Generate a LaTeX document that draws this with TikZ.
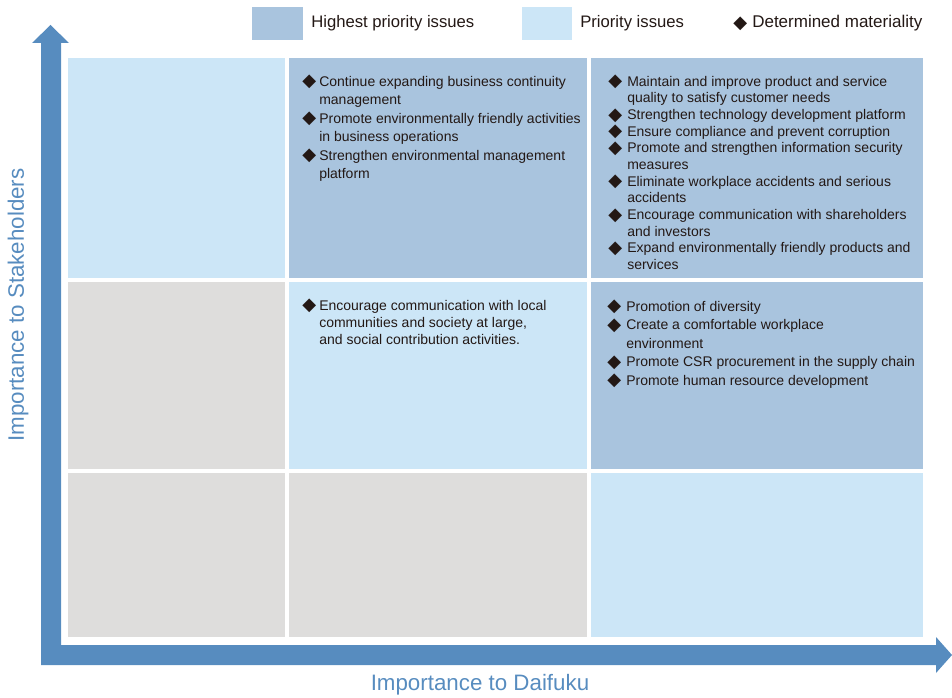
\documentclass[tikz,border=0pt]{standalone}
\usepackage{fontspec}
\setmainfont{Liberation Sans}
\newfontfamily\symfont{DejaVu Sans}
\definecolor{hiblue}{HTML}{A9C4DE}
\definecolor{loblue}{HTML}{CCE6F7}
\definecolor{cellgray}{HTML}{DEDDDC}
\definecolor{axisblue}{HTML}{578CBF}
\definecolor{ink}{HTML}{231815}
\newcommand\dmd{\raisebox{-0.6pt}{\symfont\fontsize{13.5}{13.5}\selectfont ◆}}
\newcommand\dmA{\llap{\makebox[12.75pt][l]{\dmd}}}
\newcommand\dmB{\llap{\makebox[14.25pt][l]{\dmd}}}
\tikzset{
  cell/.style={inner sep=0pt, outer sep=0pt, anchor=north west},
  celltext/.style={inner sep=0pt, anchor=north west, align=left, text=ink},
  legtext/.style={inner sep=0pt, anchor=west, text=ink},
  axislabel/.style={text=axisblue, font=\fontsize{16.75}{18}\selectfont, inner sep=0pt}
}
\begin{document}
\begin{tikzpicture}[x=0.75pt,y=-0.75pt]
\useasboundingbox (0,0) rectangle (952,698);
% cells
\fill[loblue]   (68,58) rectangle (285,278);
\fill[hiblue]   (289,58) rectangle (587,278);
\fill[hiblue]   (591,58) rectangle (923,278);
\fill[cellgray] (68,282) rectangle (285,469);
\fill[loblue]   (289,282) rectangle (587,469);
\fill[hiblue]   (591,282) rectangle (923,469);
\fill[cellgray] (68,473) rectangle (285,637);
\fill[cellgray] (289,473) rectangle (587,637);
\fill[loblue]   (591,473) rectangle (923,637);
% axes
\fill[axisblue] (41,665) -- (41,43) -- (32,43) -- (50.5,25) -- (69,43) -- (61,43)
  -- (61,645) -- (936,645) -- (936,637) -- (952,655) -- (936,673) -- (936,665) -- cycle;
\node[axislabel, rotate=90] (ylab) at (18,305) {Importance to Stakeholders};
\node[axislabel] (xlab) at (480,685) {Importance to Daifuku};
% legend
\fill[hiblue] (252,7) rectangle (303,40);
\node[legtext, font=\fontsize{12.5}{14}\selectfont] (l1) at (311,23) {Highest priority issues};
\fill[loblue] (522,7) rectangle (572,40);
\node[legtext, font=\fontsize{12.5}{14}\selectfont] (l2) at (580,23) {Priority issues};
\node[legtext, font=\fontsize{12.75}{14}\selectfont] (l3) at (733,23) {\makebox[14.25pt][l]{\dmd}Determined materiality};
% cell texts
\node[celltext, font=\fontsize{10.5}{13.9}\selectfont] (t12) at (319,75) {%
\dmA Continue expanding business continuity\\
management\\
\dmA Promote environmentally friendly activities\\
in business operations\\
\dmA Strengthen environmental management\\
platform};
\node[celltext, font=\fontsize{10.5}{12.5}\selectfont] (t13) at (627,75) {%
\dmB Maintain and improve product and service\\
quality to satisfy customer needs\\
\dmB Strengthen technology development platform\\
\dmB Ensure compliance and prevent corruption\\
\dmB Promote and strengthen information security\\
measures\\
\dmB Eliminate workplace accidents and serious\\
accidents\\
\dmB Encourage communication with shareholders\\
and investors\\
\dmB Expand environmentally friendly products and\\
services};
\node[celltext, font=\fontsize{10.5}{12.75}\selectfont] (t22) at (319,299) {%
\dmA Encourage communication with local\\
communities and society at large,\\
and social contribution activities.};
\node[celltext, font=\fontsize{10.5}{13.9}\selectfont] (t23) at (626,300) {%
\dmB Promotion of diversity\\
\dmB Create a comfortable workplace\\
environment\\
\dmB Promote CSR procurement in the supply chain\\
\dmB Promote human resource development};
\end{tikzpicture}
\end{document}
